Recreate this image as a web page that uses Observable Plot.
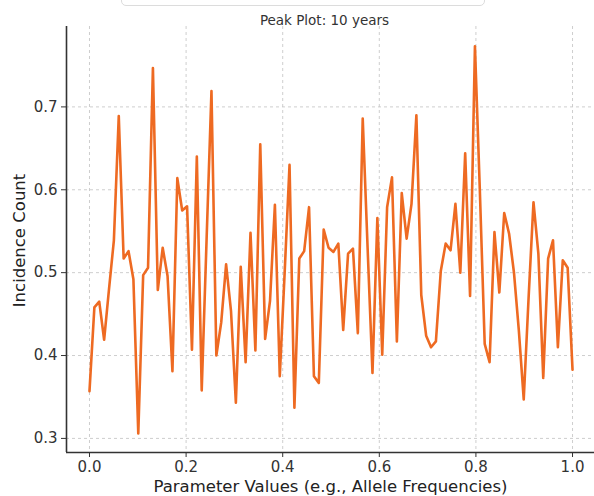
<!DOCTYPE html>
<html>
<head>
<meta charset="utf-8">
<script src="https://cdn.jsdelivr.net/npm/d3@7"></script>
<script src="https://cdn.jsdelivr.net/npm/@observablehq/plot@0.6"></script>
<style>
  html, body { margin: 0; padding: 0; background: #fff; }
  #wrap { position: relative; width: 594px; height: 496px; overflow: hidden; font-family: "DejaVu Sans", sans-serif; }
  #box { position: absolute; left: 121px; top: -20px; width: 362px; height: 24px; border: 1.5px solid #dcdcdc; border-radius: 5px; }
</style>
</head>
<body>
<div id="wrap"><div id="box"></div></div>
<script>
const title = "Peak Plot: 10 years";
const xLabel = "Parameter Values (e.g., Allele Frequencies)";
const yLabel = "Incidence Count";
const xTicks = [0, 0.2, 0.4, 0.6, 0.8, 1.0];
const yTicks = [0.3, 0.4, 0.5, 0.6, 0.7];
const incidence = [
  0.357, 0.458, 0.465, 0.419, 0.480, 0.539, 0.689, 0.517, 0.526, 0.492,
  0.306, 0.497, 0.506, 0.747, 0.479, 0.530, 0.496, 0.381, 0.614, 0.575,
  0.580, 0.407, 0.640, 0.358, 0.540, 0.719, 0.400, 0.440, 0.510, 0.454,
  0.343, 0.507, 0.392, 0.548, 0.406, 0.655, 0.420, 0.466, 0.582, 0.375,
  0.500, 0.630, 0.337, 0.517, 0.526, 0.579, 0.375, 0.367, 0.552, 0.530,
  0.525, 0.535, 0.431, 0.523, 0.529, 0.427, 0.686, 0.530, 0.379, 0.566,
  0.401, 0.579, 0.615, 0.417, 0.596, 0.541, 0.583, 0.690, 0.473, 0.424,
  0.410, 0.417, 0.502, 0.535, 0.527, 0.583, 0.500, 0.644, 0.472, 0.773,
  0.600, 0.414, 0.392, 0.549, 0.476, 0.572, 0.547, 0.500, 0.430, 0.347,
  0.470, 0.585, 0.523, 0.373, 0.517, 0.539, 0.410, 0.515, 0.506, 0.383
];
const paramValues = incidence.map((_, i) => i / (incidence.length - 1));
const data = incidence.map((v, i) => ({x: paramValues[i], y: v}));

const xDomain = [-0.0476, 1.0455];
const yDomain = [0.283, 0.797];

const chart = Plot.plot({
  width: 594,
  height: 496,
  marginLeft: 66,
  marginRight: 0,
  marginTop: 26,
  marginBottom: 44,
  style: {fontFamily: "DejaVu Sans, sans-serif", color: "#333", background: "transparent"},
  x: {domain: xDomain},
  y: {domain: yDomain},
  marks: [
    Plot.gridX(xTicks, {stroke: "#c8c8c8", strokeOpacity: 1, strokeDasharray: "3,3", strokeWidth: 0.9}),
    Plot.gridY(yTicks, {stroke: "#c8c8c8", strokeOpacity: 1, strokeDasharray: "3,3", strokeWidth: 0.9}),
    Plot.line(data, {x: "x", y: "y", stroke: "#ee6a22", strokeWidth: 2.6, strokeLinejoin: "round"}),
    Plot.ruleX([xDomain[0]], {stroke: "#333", strokeWidth: 1.6}),
    Plot.ruleY([yDomain[0]], {stroke: "#333", strokeWidth: 1.6}),
    Plot.axisX(xTicks, {tickSize: 5, tickPadding: 4, fontSize: 15, tickFormat: d3.format(".1f"), label: null, stroke: "#333"}),
    Plot.axisY(yTicks, {tickSize: 5, tickPadding: 4, fontSize: 15, tickFormat: d3.format(".1f"), label: null, stroke: "#333"}),
    Plot.text([xLabel], {frameAnchor: "bottom", textAnchor: "middle", dy: 34, dx: 0, fontSize: 16.5, fill: "#222", lineAnchor: "middle"}),
    Plot.text([yLabel], {frameAnchor: "left", textAnchor: "middle", lineAnchor: "middle", dx: -47, dy: 1, rotate: -90, fontSize: 16.5, fill: "#222"}),
    Plot.text([title], {frameAnchor: "top", textAnchor: "middle", dy: -11, dx: -6, fontSize: 13.5, fill: "#333"})
  ]
});
document.getElementById("wrap").appendChild(chart);
</script>
</body>
</html>
